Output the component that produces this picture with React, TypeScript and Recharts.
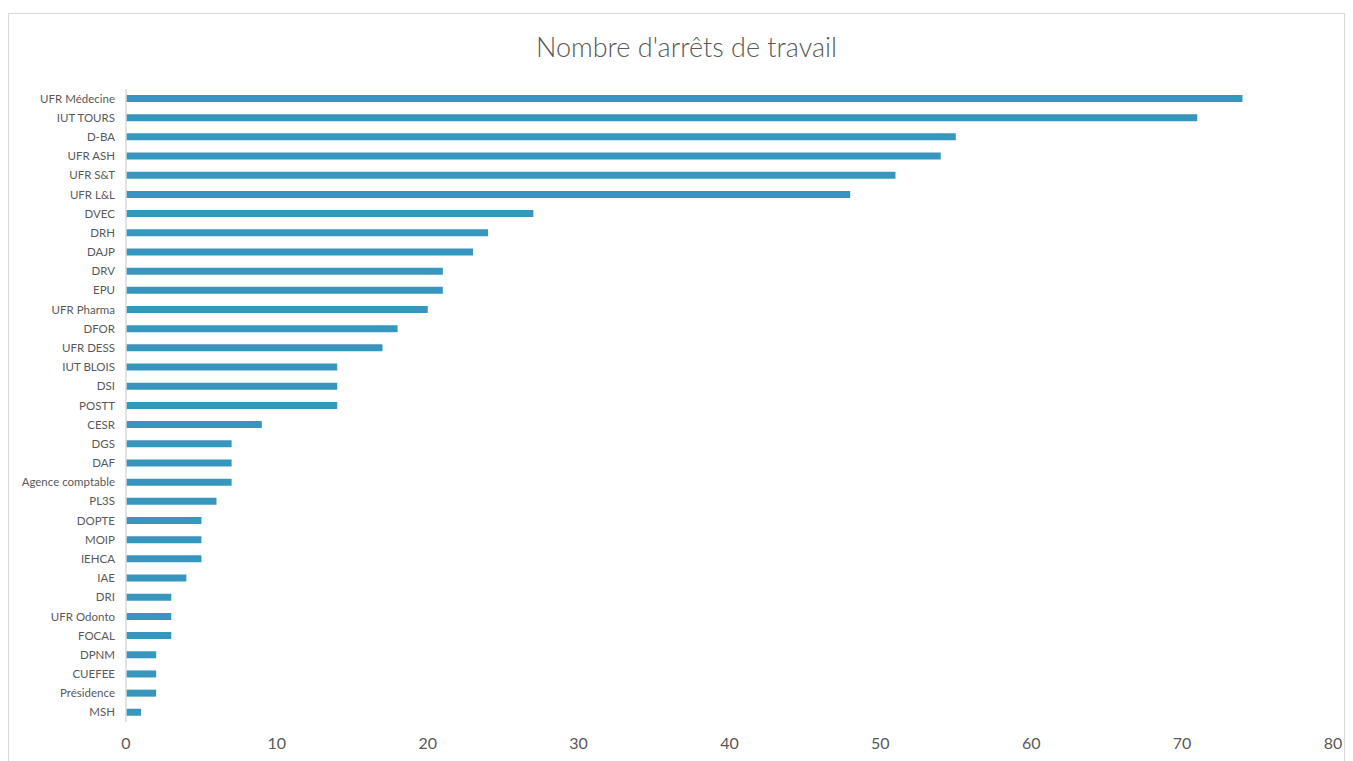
import React from "react";
import { BarChart, Bar, XAxis, YAxis } from "recharts";

const categories = [
  "UFR Médecine", "IUT TOURS", "D-BA", "UFR ASH", "UFR S&T", "UFR L&L", "DVEC", "DRH", "DAJP", "DRV", "EPU",
  "UFR Pharma", "DFOR", "UFR DESS", "IUT BLOIS", "DSI", "POSTT", "CESR", "DGS", "DAF", "Agence comptable",
  "PL3S", "DOPTE", "MOIP", "IEHCA", "IAE", "DRI", "UFR Odonto", "FOCAL", "DPNM", "CUEFEE", "Présidence", "MSH",
];
const values = [74, 71, 55, 54, 51, 48, 27, 24, 23, 21, 21, 20, 18, 17, 14, 14, 14, 9, 7, 7, 7, 6, 5, 5, 5, 4, 3, 3, 3, 2, 2, 2, 1];
const xTicks = [0, 10, 20, 30, 40, 50, 60, 70, 80];
const title = "Nombre d'arrêts de travail";

const data = categories.map((name, i) => ({ name, value: values[i] }));

const CategoryTick = (props: any) => {
  const { x, y, payload } = props;
  return (
    <text
      x={x}
      y={y}
      dy="0.355em"
      textAnchor="end"
      fill="#595959"
      fontSize={11.5}
      fontFamily="Lato, sans-serif"
    >
      {payload.value}
    </text>
  );
};

export default function App() {
  return (
    <div
      style={{
        position: "relative",
        width: 1337,
        height: 760,
        marginTop: 5,
        border: "1px solid #d9d9d9",
        boxSizing: "border-box",
        fontFamily: "Lato, sans-serif",
        background: "#fff",
      }}
    >
      <div
        style={{
          position: "absolute",
          top: 17,
          left: 0,
          width: "100%",
          paddingLeft: 20,
          boxSizing: "border-box",
          textAlign: "center",
          fontSize: 27,
          fontWeight: 300,
          color: "#595959",
          lineHeight: "32px",
        }}
      >
        {title}
      </div>
      <BarChart
        width={1335}
        height={758}
        layout="vertical"
        data={data}
        margin={{ top: 75, right: 11, left: 0, bottom: 20 }}
      >
        <XAxis
          type="number"
          domain={[0, 80]}
          ticks={xTicks}
          axisLine={false}
          tickLine={false}
          tickSize={0}
          tickMargin={16}
          height={30}
          tick={{ fill: "#595959", fontSize: 16, fontFamily: "Lato, sans-serif" }}
          interval={0}
        />
        <YAxis
          type="category"
          dataKey="name"
          width={117}
          interval={0}
          axisLine={{ stroke: "#d9d9d9", strokeWidth: 1.5 }}
          tickLine={false}
          tickSize={0}
          tickMargin={11}
          tick={<CategoryTick />}
        />
        <Bar dataKey="value" fill="#3796BD" barSize={7} isAnimationActive={false} />
      </BarChart>
    </div>
  );
}
